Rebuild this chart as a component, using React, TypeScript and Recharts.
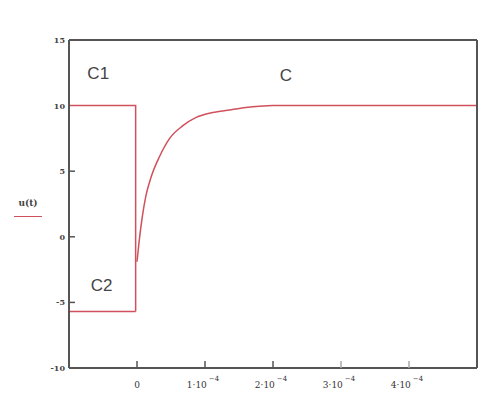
import * as React from "react";
import {
  LineChart,
  Line,
  XAxis,
  YAxis,
  ReferenceDot,
} from "recharts";

// t in units of 1e-4 s
const xTicks = [-1, 0, 1, 2, 3, 4, 5];
const xTickLabels = ["", "0", "1", "2", "3", "4", ""];
const yTicks = [-10, -5, 0, 5, 10, 15];

const c1Line = [
  { t: -1, u: 10 },
  { t: -0.02, u: 10 },
  { t: -0.02, u: -5.7 },
];
const c2Line = [
  { t: -1, u: -5.7 },
  { t: -0.02, u: -5.7 },
];
const curveT = [0, 0.03, 0.08, 0.13, 0.21, 0.33, 0.48, 0.67, 0.87, 1.11, 1.36, 1.6, 1.8, 2.0, 3.0, 5.0];
const curveU = [-1.9, -0.4, 1.6, 3.1, 4.6, 6.1, 7.5, 8.45, 9.1, 9.47, 9.67, 9.85, 9.95, 10, 10, 10];
const curve = curveT.map((t, i) => ({ t, u: curveU[i] }));

const labels = [
  { t: -0.57, u: 12.4, text: "C1" },
  { t: -0.52, u: -3.8, text: "C2" },
  { t: 2.19, u: 12.2, text: "C" },
];

const RED = "#d0505c";
const AXIS = "#555";

function BottomTick(props: any) {
  const { x, y, payload } = props;
  const label = xTickLabels[xTicks.indexOf(payload.value)];
  const light = payload.value >= 3;
  if (!label) return null;
  return (
    <g>
      <line x1={x} y1={y} x2={x} y2={y - 7} stroke={light ? "#aaa" : AXIS} strokeWidth={1.5} />
      {label === "0" ? (
        <text x={x} y={y + 20} textAnchor="middle" fontSize={9} fontFamily="DejaVu Serif" fill="#333">
          0
        </text>
      ) : (
        <text x={x - 2} y={y + 20} textAnchor="middle" fontSize={9} fontFamily="DejaVu Serif" fill="#333">
          {label}·10
          <tspan dx={2} dy={-7} fontSize={7}>
            −4
          </tspan>
        </text>
      )}
    </g>
  );
}

function TopTick(props: any) {
  const { x, y, payload } = props;
  if (payload.value <= -1 || payload.value >= 5) return null;
  return <line x1={x} y1={y} x2={x} y2={y + 6} stroke={payload.value >= 3 ? "#aaa" : AXIS} strokeWidth={1.5} />;
}

function LeftTick(props: any) {
  const { x, y, payload } = props;
  const inner = payload.value > -10 && payload.value < 10;
  return (
    <g>
      {inner && <line x1={x} y1={y} x2={x + 6} y2={y} stroke={AXIS} strokeWidth={1.5} />}
      <text x={x - 4} y={y + 3} textAnchor="end" fontSize={8} fontFamily="DejaVu Serif" fontWeight="bold" fill="#444">
        {payload.value}
      </text>
    </g>
  );
}

function RightTick(props: any) {
  const { x, y, payload } = props;
  if (payload.value <= -10 || payload.value >= 10) return null;
  return <line x1={x} y1={y} x2={x - 6} y2={y} stroke={AXIS} strokeWidth={1.5} />;
}

function TextLabel(props: any) {
  const { cx, cy, text } = props;
  return (
    <text x={cx} y={cy} textAnchor="middle" dominantBaseline="middle" fontSize={17} fontFamily="Liberation Sans" fill="#444">
      {text}
    </text>
  );
}

export default function App() {
  return (
    <div style={{ position: "absolute", left: 0, top: 0, width: 495, height: 414, background: "#fff" }}>
      <LineChart width={495} height={414} margin={{ top: 39, right: 17, bottom: 45, left: 68 }}>
        <XAxis
          xAxisId="b"
          dataKey="t"
          type="number"
          domain={[-1, 5]}
          ticks={xTicks}
          allowDataOverflow
          height={1}
          tickSize={0}
          tickMargin={0}
          stroke={AXIS}
          strokeWidth={2}
          tick={<BottomTick />}
          interval={0}
        />
        <XAxis
          xAxisId="top"
          orientation="top"
          dataKey="t"
          type="number"
          domain={[-1, 5]}
          ticks={xTicks}
          height={1}
          tickSize={0}
          tickMargin={0}
          stroke={AXIS}
          strokeWidth={2}
          tick={<TopTick />}
          interval={0}
        />
        <YAxis
          yAxisId="l"
          type="number"
          domain={[-10, 15]}
          ticks={yTicks}
          width={1}
          tickSize={0}
          tickMargin={0}
          stroke={AXIS}
          strokeWidth={2}
          tick={<LeftTick />}
          interval={0}
        />
        <YAxis
          yAxisId="r"
          orientation="right"
          type="number"
          domain={[-10, 15]}
          ticks={yTicks}
          width={1}
          tickSize={0}
          tickMargin={0}
          stroke={AXIS}
          strokeWidth={2}
          tick={<RightTick />}
          interval={0}
        />
        <Line xAxisId="b" yAxisId="l" data={c1Line} dataKey="u" stroke={RED} strokeWidth={1.5} dot={false} isAnimationActive={false} type="linear" />
        <Line xAxisId="b" yAxisId="l" data={c2Line} dataKey="u" stroke={RED} strokeWidth={1.5} dot={false} isAnimationActive={false} type="linear" />
        <Line xAxisId="b" yAxisId="l" data={curve} dataKey="u" stroke={RED} strokeWidth={1.5} dot={false} isAnimationActive={false} type="monotone" />
        {labels.map((l) => (
          <ReferenceDot
            key={l.text}
            xAxisId="b"
            yAxisId="l"
            x={l.t}
            y={l.u}
            ifOverflow="visible"
            shape={(p: any) => <TextLabel {...p} text={l.text} />}
          />
        ))}
      </LineChart>
      <div
        style={{
          position: "absolute",
          left: 14,
          top: 198,
          width: 28,
          fontFamily: "DejaVu Serif",
          fontSize: 9,
          fontWeight: "bold",
          color: "#444",
          textAlign: "center",
          borderBottom: `1.5px solid ${RED}`,
          paddingBottom: 8,
        }}
      >
        u(t)
      </div>
    </div>
  );
}
